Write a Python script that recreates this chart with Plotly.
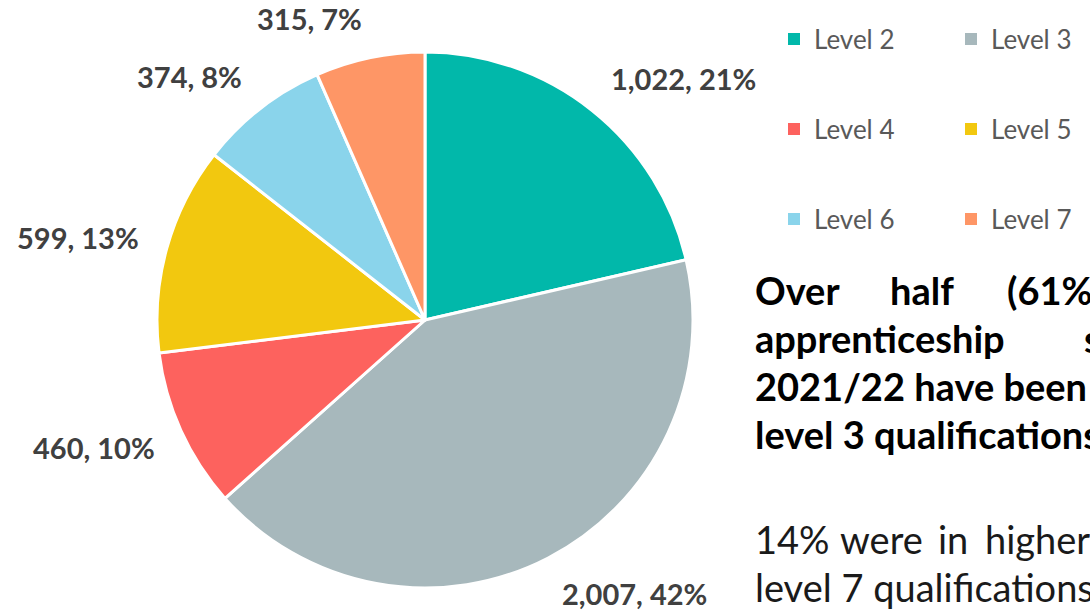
import math
import plotly.graph_objects as go

# ---- data ----
levels = ["Level 2", "Level 3", "Level 4", "Level 5", "Level 6", "Level 7"]
starts = [1022, 2007, 460, 599, 374, 315]
colors = ["#01B8AA", "#A7B8BC", "#FD625E", "#F2C80F", "#8AD4EB", "#FE9666"]

W, H = 1090, 613
FONT = "Lato"

# pie geometry (pixels)
cx, cy, R = 425, 320, 268
dom_x = [(cx - R) / W, (cx + R) / W]
dom_y = [1 - (cy + R) / H, 1 - (cy - R) / H]

fig = go.Figure()
fig.add_trace(go.Pie(
    labels=levels, values=starts, sort=False, direction="clockwise", rotation=0,
    marker=dict(colors=colors, line=dict(color="white", width=3)),
    textinfo="none", showlegend=False, domain=dict(x=dom_x, y=dom_y),
    hovertemplate="%{label}: %{value:,} (%{percent})<extra></extra>",
))

# data labels placed along each slice's mid-angle
total = sum(starts)
annotations = []
cum = 0
for v in starts:
    mid = (cum + v / 2) / total
    cum += v
    a = 2 * math.pi * mid
    px = cx + 1.10 * R * math.sin(a)
    py = cy - 1.15 * R * math.cos(a)
    annotations.append(dict(
        x=px / W, y=1 - py / H, xref="paper", yref="paper",
        text=f"<b>{v:,}, {round(100 * v / total)}%</b>", showarrow=False,
        xanchor="left" if math.sin(a) > 0 else "right", yanchor="middle",
        font=dict(family=FONT, size=29, color="#404040"),
    ))

# legend via marker-only traces, three rows of two
legend_rows = [("legend", 39), ("legend2", 129), ("legend3", 219)]
for i, (lab, col) in enumerate(zip(levels, colors)):
    fig.add_trace(go.Scatter(
        x=[None], y=[None], mode="markers", name=lab,
        marker=dict(symbol="square", size=12, color=col),
        legend=legend_rows[i // 2][0], hoverinfo="skip",
    ))

leg_common = dict(orientation="h", entrywidth=132, x=774 / W, xanchor="left",
                  yanchor="middle", bgcolor="rgba(0,0,0,0)",
                  font=dict(family=FONT, size=26, color="#595959"))
fig.update_layout(**{name: dict(leg_common, y=1 - yc / H) for name, yc in legend_rows})

# commentary text on the right (justified in the source, clipped at the page edge)
bold = dict(family=FONT, size=38, color="#000000")
reg = dict(family=FONT, size=38, color="#1a1a1a")
text_items = [
    ("<b>Over</b>", 753, 303, bold),
    ("<b>half</b>", 888, 303, bold),
    ("<b>(61%)</b>", 1005, 303, bold),
    ("<b>apprenticeship</b>", 753, 351, bold),
    ("<b>starts</b>", 1082, 351, bold),
    ("<b>2021/22 have been at</b>", 753, 399, bold),
    ("<b>level 3 qualifications.</b>", 753, 447, bold),
    ("14%", 753, 552, reg),
    ("were", 838, 552, reg),
    ("in", 936, 552, reg),
    ("higher level", 983, 552, reg),
    ("level 7 qualifications.", 753, 600, reg),
]
for t, x, yb, f in text_items:
    # yb is the text baseline in pixels; shift to the middle of the line box
    ym = yb - 0.33 * f["size"]
    annotations.append(dict(x=x / W, y=1 - ym / H, xref="paper", yref="paper",
                            text=t, showarrow=False, xanchor="left", yanchor="middle",
                            font=f))

fig.update_layout(
    width=W, height=H, margin=dict(l=0, r=0, t=0, b=0, autoexpand=False),
    paper_bgcolor="white", plot_bgcolor="white",
    xaxis=dict(visible=False), yaxis=dict(visible=False),
    annotations=annotations, font=dict(family=FONT),
)

fig.write_html("out.html")
